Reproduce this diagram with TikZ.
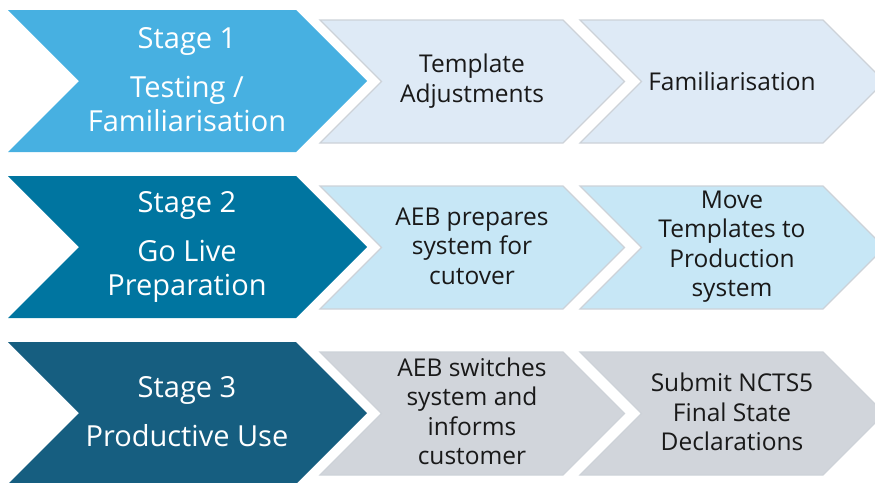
\documentclass[tikz,border=0pt]{standalone}
\usepackage{fontspec}
\setmainfont{Open Sans}
\definecolor{bigone}{HTML}{47B0E1}
\definecolor{bigtwo}{HTML}{0075A0}
\definecolor{bigthree}{HTML}{165E80}
\definecolor{smallone}{HTML}{DEEAF6}
\definecolor{smalltwo}{HTML}{C7E7F6}
\definecolor{smallthree}{HTML}{D1D5DB}
\definecolor{rimgray}{HTML}{CDD2D8}
\begin{document}
\begin{tikzpicture}[x=1pt, y=-1pt,
  stagetext/.style={text=white, align=center, inner sep=0pt, font=\fontsize{29}{34}\selectfont},
  steptext/.style={text=black!90, align=center, inner sep=0pt, font=\fontsize{24.5}{29.5}\selectfont},
  steprim/.style={draw=rimgray, line width=1.2pt}]
\useasboundingbox (0,0) rectangle (875,482);
\clip (0,0) rectangle (875,482);
% stage 1
\fill[bigone] (8,10) -- ++(288,0) -- ++(71,71) -- ++(-71,71) -- ++(-288,0) -- ++(71,-71) -- cycle;
\filldraw[steprim, fill=smallone] (320,20) -- ++(243,0) -- ++(61.5,61.5) -- ++(-61.5,61.5) -- ++(-243,0) -- ++(61.5,-61.5) -- cycle;
\filldraw[steprim, fill=smallone] (580,20) -- ++(243,0) -- ++(61.5,61.5) -- ++(-61.5,61.5) -- ++(-243,0) -- ++(61.5,-61.5) -- cycle;
\node[stagetext] (S1) at (187,80) {Stage 1\\[15pt] Testing /\\ Familiarisation};
\node[steptext] (S1a) at (472,81) {Template\\ Adjustments};
\node[steptext] (S1b) at (732,81) {Familiarisation};
% stage 2
\fill[bigtwo] (8,176) -- ++(288,0) -- ++(71,71) -- ++(-71,71) -- ++(-288,0) -- ++(71,-71) -- cycle;
\filldraw[steprim, fill=smalltwo] (320,186) -- ++(243,0) -- ++(61.5,61.5) -- ++(-61.5,61.5) -- ++(-243,0) -- ++(61.5,-61.5) -- cycle;
\filldraw[steprim, fill=smalltwo] (580,186) -- ++(243,0) -- ++(61.5,61.5) -- ++(-61.5,61.5) -- ++(-243,0) -- ++(61.5,-61.5) -- cycle;
\node[stagetext] (S2) at (187,246.5) {Stage 2\\[15pt] Go Live\\ Preparation};
\node[steptext] (S2a) at (472,246) {AEB prepares\\ system for\\ cutover};
\node[steptext] (S2b) at (732,246.5) {Move\\ Templates to\\ Production\\ system};
% stage 3
\fill[bigthree] (8,342) -- ++(288,0) -- ++(71,71) -- ++(-71,71) -- ++(-288,0) -- ++(71,-71) -- cycle;
\filldraw[steprim, fill=smallthree] (320,352) -- ++(243,0) -- ++(61.5,61.5) -- ++(-61.5,61.5) -- ++(-243,0) -- ++(61.5,-61.5) -- cycle;
\filldraw[steprim, fill=smallthree] (580,352) -- ++(243,0) -- ++(61.5,61.5) -- ++(-61.5,61.5) -- ++(-243,0) -- ++(61.5,-61.5) -- cycle;
\node[stagetext] (S3) at (187,411.5) {Stage 3\\[15pt] Productive Use};
\node[steptext] (S3a) at (472,411.5) {AEB switches\\ system and\\ informs\\ customer};
\node[steptext] (S3b) at (732,412) {Submit NCTS5\\ Final State\\ Declarations};
\end{tikzpicture}
\end{document}
